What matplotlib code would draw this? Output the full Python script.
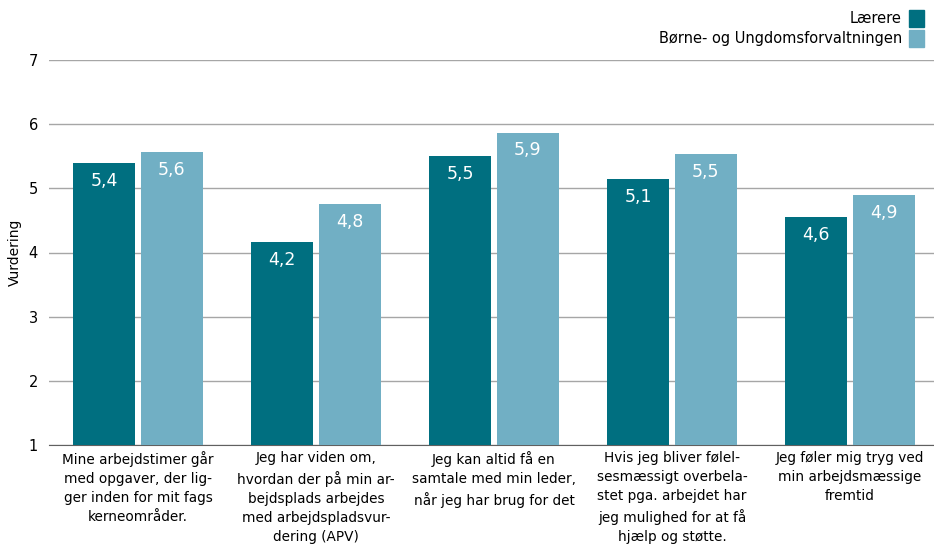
import numpy as np
import matplotlib
matplotlib.use("Agg")
import matplotlib.pyplot as plt
import matplotlib.patches as mpatches

categories = [
    "Mine arbejdstimer går\nmed opgaver, der lig-\nger inden for mit fags\nkerneområder.",
    "Jeg har viden om,\nhvordan der på min ar-\nbejdsplads arbejdes\nmed arbejdspladsvur-\ndering (APV)",
    "Jeg kan altid få en\nsamtale med min leder,\nnår jeg har brug for det",
    "Hvis jeg bliver følel-\nsesmæssigt overbela-\nstet pga. arbejdet har\njeg mulighed for at få\nhjælp og støtte.",
    "Jeg føler mig tryg ved\nmin arbejdsmæssige\nfremtid",
]
laerere = [5.39, 4.17, 5.50, 5.14, 4.56]
bufo = [5.57, 4.76, 5.87, 5.54, 4.89]
series_names = ["Lærere", "Børne- og Ungdomsforvaltningen"]
dark = "#006F80"
light = "#71AFC4"

W, H = 934, 550
fig = plt.figure(figsize=(W / 100, H / 100), dpi=100)
ax = fig.add_axes([49 / W, 1 - 445 / H, 890 / W, 385 / H])

x = np.arange(len(categories))
bw = 0.35
off = 0.19
b1 = ax.bar(x - off, [v - 1 for v in laerere], bw, bottom=1, color=dark, zorder=3)
b2 = ax.bar(x + off, [v - 1 for v in bufo], bw, bottom=1, color=light, zorder=3)

for bars, vals in [(b1, laerere), (b2, bufo)]:
    for r, v in zip(bars, vals):
        ax.text(r.get_x() + r.get_width() / 2, v - 0.14, f"{v:.1f}".replace(".", ","),
                ha="center", va="top", color="white", fontsize=12.5, zorder=4)

ax.set_xlim(-0.5, len(categories) - 0.5)
ax.set_ylim(1, 7)
ax.set_yticks(range(1, 8))
ax.yaxis.grid(True, color="#a6a6a6", linewidth=1, zorder=0)
ax.tick_params(axis="y", length=0, labelsize=10.5, pad=8)
ax.tick_params(axis="x", length=0, pad=4)
ax.set_xticks(x)
ax.set_xticklabels(categories, fontsize=9.8, linespacing=1.47)
for s in ["top", "right", "left"]:
    ax.spines[s].set_visible(False)
ax.spines["bottom"].set_color("#606060")
ax.set_ylabel("Vurdering", fontsize=10, labelpad=5)

handles = [mpatches.Patch(color=dark), mpatches.Patch(color=light)]
fig.legend(handles, series_names, loc="upper right", bbox_to_anchor=(1.0, 1.0),
           markerfirst=False, frameon=False, fontsize=10.5, handlelength=1.0,
           handleheight=1.4, handletextpad=0.5, labelspacing=0.2,
           borderaxespad=0.3)

fig.savefig("out.png", dpi=100)
